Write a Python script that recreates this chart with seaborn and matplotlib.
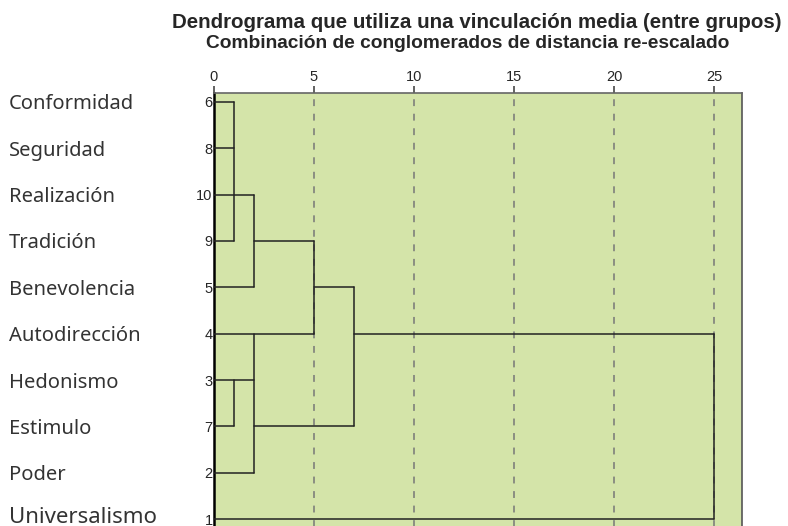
import pandas as pd
import matplotlib.pyplot as plt
import matplotlib.transforms as mtransforms
import seaborn as sns

# leaves, top to bottom, with case numbers
names = ['Conformidad', 'Seguridad', 'Realización', 'Tradición', 'Benevolencia',
         'Autodirección', 'Hedonismo', 'Estimulo', 'Poder', 'Universalismo']
numbers = ['6', '8', '10', '9', '5', '4', '3', '7', '2', '1']

# rescaled distance where each leaf's line ends
leaf_x = [1, 1, 2, 1, 2, 5, 2, 1, 2, 25]

# vertical joins: (distance, first row, last row)
joins = [(1, 0, 3), (2, 2, 4), (5, 3, 5), (7, 4, 7),
         (1, 6, 7), (2, 5, 8), (25, 5, 9)]

# connectors between clusters: (row, from distance, to distance)
links = [(3, 2, 5), (4, 5, 7), (7, 2, 7), (5, 7, 25)]

ticks = [0, 5, 10, 15, 20, 25]

# build segment table
rows = []
seg = 0
for i, xe in enumerate(leaf_x):
    rows += [(seg, 0, i), (seg, xe, i)]
    seg += 1
for x, r0, r1 in joins:
    rows += [(seg, x, r0), (seg, x, r1)]
    seg += 1
for r, x0, x1 in links:
    rows += [(seg, x0, r), (seg, x1, r)]
    seg += 1
df = pd.DataFrame(rows, columns=['seg', 'x', 'y'])

sns.set_style('white')
fig = plt.figure(figsize=(7.88, 5.26), dpi=100)
ax = fig.add_axes([214 / 788, -2 / 526, 528 / 788, 435 / 526])
ax.set_facecolor('#d4e4a9')

for t in ticks[1:]:
    ax.axvline(t, color='#777777', lw=1.1, ls=(0, (4.5, 5)), zorder=1)

sns.lineplot(data=df, x='x', y='y', units='seg', estimator=None, sort=False,
             color='#222222', lw=1.1, ax=ax, zorder=3)

ax.set_xlim(0, 26.4)
ax.set_ylim(9.194, -0.194)
ax.xaxis.tick_top()
ax.set_xticks(ticks)
ax.set_xticklabels([str(t) for t in ticks], fontsize=10.5, family='Liberation Sans')
ax.tick_params(axis='x', length=5, width=1.3, color='#555555', pad=1.5)
ax.xaxis.get_major_ticks()[0].tick2line.set_color('black')
ax.set_yticks(range(len(numbers)))
ax.set_yticklabels(numbers, fontsize=10.5, family='Liberation Sans')
ax.tick_params(axis='y', length=0, pad=1)
ax.set_xlabel('')
ax.set_ylabel('')

ax.spines['left'].set_color('black')
ax.spines['left'].set_linewidth(1.8)
ax.spines['top'].set_color('#666666')
ax.spines['top'].set_linewidth(1.2)
ax.spines['right'].set_color('#555555')
ax.spines['right'].set_linewidth(1.2)
ax.spines['bottom'].set_visible(False)

tr = mtransforms.blended_transform_factory(fig.transFigure, ax.transData)
for i, n in enumerate(names):
    if n == 'Universalismo':
        # bigger label sitting on the bottom edge
        ax.text(9 / 788, i - 0.08, n, transform=tr, ha='left', va='center_baseline',
                fontsize=16, color='#333333', family=['Noto Sans', 'DejaVu Sans'])
    else:
        ax.text(9 / 788, i, n, transform=tr, ha='left', va='center_baseline',
                fontsize=14.5, color='#333333', family=['Noto Sans', 'DejaVu Sans'])

fig.text(477 / 788, 1 - 28 / 526, 'Dendrograma que utiliza una vinculación media (entre grupos)',
         ha='center', va='baseline', fontsize=14.8, fontweight='bold', family='Liberation Sans')
fig.text(468 / 788, 1 - 48 / 526, 'Combinación de conglomerados de distancia re-escalado',
         ha='center', va='baseline', fontsize=13.8, fontweight='bold', family='Liberation Sans')

fig.savefig('out.png', dpi=100)
